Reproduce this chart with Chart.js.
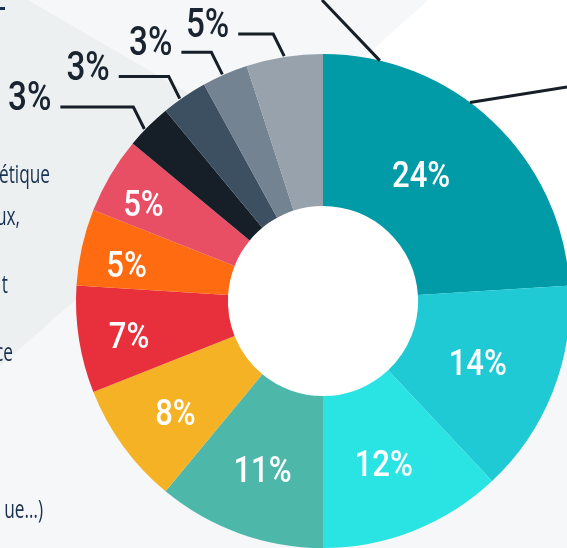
<!DOCTYPE html>
<html>
<head>
<meta charset="utf-8">
<script src="https://cdn.jsdelivr.net/npm/chart.js@4.4.0/dist/chart.umd.min.js"></script>
<style>
  html, body { margin: 0; padding: 0; background: #f5f7f9; }
  canvas { display: block; }
</style>
</head>
<body>
<canvas id="donut" width="567" height="548"></canvas>
<script>
// slices, clockwise from 12 o'clock
const sliceNames = ['Part 1', 'Part 2', 'Part 3', 'Part 4', 'Part 5', 'Part 6',
  'Part 7', 'Part 8', 'Part 9', 'Part 10', 'Part 11', 'Part 12'];
const sliceShares = [24, 14, 12, 11, 8, 7, 5, 5, 3, 3, 3, 5];
const sliceColors = ['#019aa7', '#1fcad4', '#2ae4e4', '#4db8aa', '#f4b224', '#e8303c',
  '#ff6b10', '#e84f64', '#161f28', '#3c5062', '#748391', '#97a2ad'];
// cut-off text of the side panel
const panelText = ['étique', 'ux,', 't', 'ce', 'ue…)'];

// label placement tweaks (radial position inside the ring, 0 = hole, 1 = rim)
const insideRadius = [0.43, 0.47, 0.51, 0.55, 0.59, 0.67, 0.69, 0.72];
const insideTurn = [-5.5, 0, 1, 0, -1, -1, -2, -2];
// outside labels: where the leader touches the slice, length of the flat part
const leaderPos = { 8: 0.4, 9: 0.4, 10: 0.45, 11: 0.5 };
const leaderFlat = { 8: 73, 9: 50, 10: 30, 11: 35 };

function condensed(ctx, text, x, y, align, sx) {
  ctx.save();
  ctx.translate(x, y);
  ctx.scale(sx, 1);
  ctx.textAlign = align;
  ctx.fillText(text, 0, 0);
  ctx.restore();
}

const backdrop = {
  id: 'backdrop',
  beforeDraw(chart) {
    const ctx = chart.ctx;
    const w = chart.width, h = chart.height;
    ctx.save();
    ctx.fillStyle = '#f5f7f9';
    ctx.fillRect(0, 0, w, h);
    // tilted grey panel on the left
    ctx.fillStyle = '#edf0f1';
    ctx.beginPath();
    ctx.moveTo(0, 0); ctx.lineTo(28, 0); ctx.lineTo(262, 136); ctx.lineTo(0, 366);
    ctx.closePath(); ctx.fill();
    // white card top right
    ctx.fillStyle = '#ffffff';
    ctx.beginPath();
    ctx.moveTo(428, 0); ctx.lineTo(w, 0); ctx.lineTo(w, 320); ctx.lineTo(290, 124);
    ctx.closePath(); ctx.fill();
    // panel text
    ctx.fillStyle = '#1a3152';
    ctx.font = '500 25px "Open Sans"';
    ctx.textBaseline = 'alphabetic';
    const rightEdge = [50, 20, 8, 13, 43];
    const baseLine = [183, 225, 293, 361, 518];
    panelText.forEach((t, i) => condensed(ctx, t, rightEdge[i], baseLine[i], 'right', 0.69));
    ctx.fillRect(0, 7, 5, 3);
    ctx.restore();
  },
  beforeDatasetsDraw(chart) {
    const arc = chart.getDatasetMeta(0).data[0];
    const ctx = chart.ctx;
    ctx.save();
    ctx.fillStyle = '#ffffff';
    ctx.beginPath();
    ctx.arc(arc.x, arc.y, arc.innerRadius + 1, 0, Math.PI * 2);
    ctx.fill();
    ctx.restore();
  },
  afterDatasetsDraw(chart) {
    const ctx = chart.ctx;
    const arcs = chart.getDatasetMeta(0).data;
    const deg = Math.PI / 180;
    ctx.save();
    ctx.textBaseline = 'alphabetic';

    // values inside the ring
    ctx.fillStyle = '#ffffff';
    ctx.font = '500 37px Roboto';
    arcs.forEach((a, i) => {
      if (i >= insideRadius.length) return;
      const mid = (a.startAngle + a.endAngle) / 2 + insideTurn[i] * deg;
      const r = a.innerRadius + (a.outerRadius - a.innerRadius) * insideRadius[i];
      const x = a.x + r * Math.cos(mid);
      const y = a.y + r * Math.sin(mid);
      condensed(ctx, sliceShares[i] + '%', x, y + 13, 'center', 0.84);
    });

    // small slices: leader lines and labels outside
    ctx.strokeStyle = '#161e28';
    ctx.fillStyle = '#1a2430';
    ctx.lineWidth = 3;
    ctx.lineJoin = 'miter';
    ctx.font = '500 40px Roboto';
    Object.keys(leaderPos).forEach(k => {
      const i = +k;
      const a = arcs[i];
      const ang = a.startAngle + (a.endAngle - a.startAngle) * leaderPos[i];
      const px = a.x + (a.outerRadius + 1) * Math.cos(ang);
      const py = a.y + (a.outerRadius + 1) * Math.sin(ang);
      const ex = px - 11, ey = py - 22;
      const fx = ex - leaderFlat[i];
      ctx.beginPath();
      ctx.moveTo(px, py); ctx.lineTo(ex, ey); ctx.lineTo(fx, ey);
      ctx.stroke();
      condensed(ctx, sliceShares[i] + '%', fx - 9, ey + 3, 'right', 0.83);
    });

    // callout lines leaving the picture (top right)
    const big = arcs[0];
    const callouts = [[13.3, 322, 0], [36.5, 567, 87]];
    callouts.forEach(([d, tx, ty]) => {
      const ang = big.startAngle + d * deg;
      const px = big.x + big.outerRadius * Math.cos(ang);
      const py = big.y + big.outerRadius * Math.sin(ang);
      ctx.beginPath();
      ctx.moveTo(px, py); ctx.lineTo(tx, ty);
      ctx.stroke();
    });
    ctx.restore();
  }
};

const donutChart = new Chart(document.getElementById('donut'), {
  type: 'doughnut',
  data: {
    labels: sliceNames,
    datasets: [{
      data: sliceShares,
      backgroundColor: sliceColors,
      borderWidth: 0
    }]
  },
  options: {
    responsive: false,
    animation: false,
    radius: 247,
    cutout: '38.5%',
    layout: { padding: { left: 79, top: 54, right: 0, bottom: 0 } },
    plugins: {
      legend: { display: false },
      tooltip: { enabled: false }
    }
  },
  plugins: [backdrop]
});
</script>
</body>
</html>
